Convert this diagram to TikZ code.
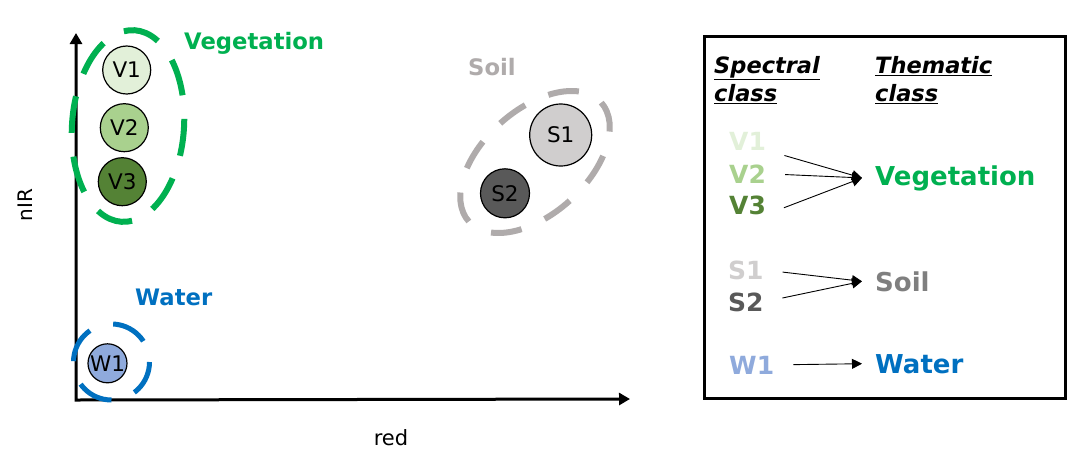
\documentclass[tikz,border=0pt]{standalone}
\usepackage{fontspec}
\setmainfont{DejaVu Sans}
\usepackage{tikz}
\usetikzlibrary{arrows.meta, positioning}
\definecolor{veggreen}{RGB}{0, 176, 80}
\definecolor{vegA}{RGB}{226, 240, 217}
\definecolor{vegB}{RGB}{169, 209, 142}
\definecolor{vegC}{RGB}{84, 130, 53}
\definecolor{soilgray}{RGB}{175, 171, 171}
\definecolor{soildark}{RGB}{127, 127, 127}
\definecolor{soilA}{RGB}{208, 206, 206}
\definecolor{soilB}{RGB}{89, 89, 89}
\definecolor{waterblue}{RGB}{0, 112, 192}
\definecolor{waterA}{RGB}{143, 170, 220}

\begin{document}
\begin{tikzpicture}[x=1pt, y=-1pt,
    cls/.style={draw, circle, line width=1.2pt, inner sep=0pt, font=\fontsize{21.5}{21.5}\selectfont},
    grp/.style={line width=6pt},
    lbl/.style={anchor=base west, inner sep=0pt, font=\fontsize{22.7}{27}\selectfont\bfseries},
    key/.style={anchor=base west, inner sep=0pt, font=\fontsize{25}{30}\selectfont\bfseries},
    theme/.style={key, font=\fontsize{26}{30}\selectfont\bfseries},
    head/.style={anchor=north west, inner sep=0pt, align=left, font=\fontsize{22.5}{28}\selectfont\bfseries\itshape},
    link/.style={line width=0.9pt, shorten <=19pt, -{Triangle[length=10pt, width=10pt]}}]
    \useasboundingbox (0,0) rectangle (1087,464);

    % 坐标轴
    \coordinate (o) at (76,400);
    \coordinate (ytip) at (76,33);
    \coordinate (xtip) at (630,399);
    \draw[line width=3pt, {Triangle[length=11pt, width=12pt]}-{Triangle[length=11pt, width=12pt]}] (ytip) -- (o) -- (xtip);
    \node[anchor=base, font=\fontsize{21}{21}\selectfont] (xlab) at (391,445) {red};
    \node[rotate=90, font=\fontsize{20}{20}\selectfont] (ylab) at (25,205) {nIR};

    % 植被
    \draw[veggreen, grp, dash pattern=on 37pt off 23.7pt, dash phase=26pt, rotate around={-4:(128,126)}]
        (128,126) ellipse [x radius=56pt, y radius=96pt];
    \foreach \n/\x/\y/\c in {1/126.7/70/vegA, 2/124.3/127.7/vegB, 3/122.3/181.7/vegC}
        \node[cls, fill=\c, minimum size=48pt] (v\n) at (\x,\y) {V\n};
    \node[lbl, text=veggreen] (lveg) at (184,49.5) {Vegetation};

    % 土壤
    \draw[soilgray, grp, dash pattern=on 31pt off 25.3pt, dash phase=31pt, rotate around={42:(535,162)}]
        (535,162) ellipse [x radius=89pt, y radius=52pt];
    \node[cls, fill=soilA, minimum size=62pt] (s1) at (560.7,135) {S1};
    \node[cls, fill=soilB, minimum size=49pt] (s2) at (505,193.3) {S2};
    \node[lbl, text=soilgray] (lsoil) at (468,75) {Soil};

    % 水体
    \draw[waterblue, grp, line width=5pt, dash pattern=on 36pt off 24.5pt, dash phase=38.5pt]
        (111.5,362) circle [radius=38pt];
    \node[cls, fill=waterA, minimum size=39pt] (w1) at (107.5,363.3) {W1};
    \node[lbl, text=waterblue] (lwater) at (135,305) {Water};

    % 图例
    \draw[line width=3pt] (704.5,36.5) rectangle (1065.5,398);
    \node[head] (hspec) at (714,56) {\underline{Spectral}\\\underline{class}};
    \node[head] (hthem) at (875,56) {\underline{Thematic}\\\underline{class}};
    \foreach \t/\x/\y/\c in {V1/729/150/vegA, V2/729/183/vegB, V3/729/214/vegC,
                              S1/728/279/soilA, S2/728/311/soilB, W1/729/374/waterA}
        \node[key, text=\c] (k\t) at (\x,\y) {\t};
    \node[theme, text=veggreen] (kveg) at (875,185) {Vegetation};
    \node[theme, text=soildark] (ksoil) at (875,291) {Soil};
    \node[theme, text=waterblue] (kwater) at (875,373) {Water};
    \coordinate[left=13pt of kveg.west] (mveg);
    \coordinate[left=13pt of ksoil.west] (msoil);
    \coordinate[left=13pt of kwater.west] (mwater);
    \draw[link] (kV1.south east) -- (mveg);
    \draw[link] (kV2.east) -- (mveg);
    \draw[link] (kV3.south east) -- (mveg);
    \draw[link] (kS1.east) -- (msoil);
    \draw[link] (kS2.east) -- (msoil);
    \draw[link] (kW1.east) -- (mwater);
\end{tikzpicture}
\end{document}
